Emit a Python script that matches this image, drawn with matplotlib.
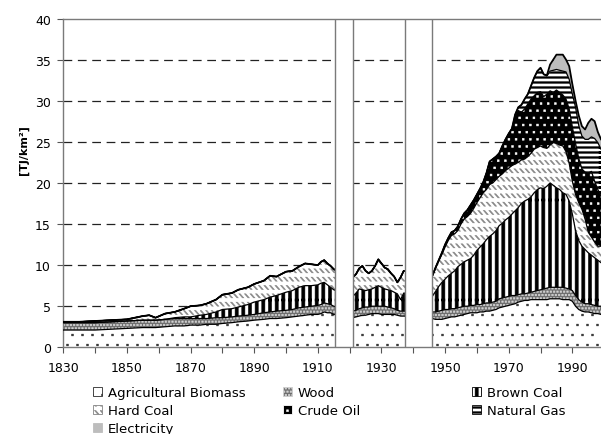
import numpy as np
import matplotlib
matplotlib.use("Agg")
import matplotlib.pyplot as plt
import matplotlib.patches as mpatches
import matplotlib.hatch as mhatch
from matplotlib.path import Path

# ---------------- data (TJ/km2) ----------------
years = [1830, 1835, 1840, 1845, 1850, 1855, 1857, 1859, 1862, 1865, 1868, 1870, 1873, 1875, 1878,
         1880, 1883, 1885, 1888, 1890, 1893, 1895, 1897, 1900, 1902, 1904, 1906, 1908, 1910, 1911,
         1912, 1913, 1914, 1915,
         1921, 1922, 1923, 1924, 1925, 1926, 1927, 1928, 1929, 1930, 1931, 1932, 1933, 1934, 1935,
         1936, 1937,
         1946, 1947, 1948, 1949, 1950, 1951, 1952, 1953, 1954, 1955, 1956, 1957, 1958, 1959, 1960,
         1961, 1962, 1963, 1964, 1965, 1966, 1967, 1968, 1969, 1970, 1971, 1972, 1973, 1974, 1975,
         1976, 1977, 1978, 1979, 1980, 1981, 1982, 1983, 1984, 1985, 1986, 1987, 1988, 1989, 1990,
         1991, 1992, 1993, 1994, 1995, 1996, 1997, 1998, 1999]

agricultural_biomass = [2.1, 2.1, 2.1, 2.2, 2.3, 2.4, 2.4, 2.4, 2.5, 2.6, 2.6, 2.7, 2.7, 2.8, 2.8,
                        2.9, 3.0, 3.1, 3.2, 3.3, 3.4, 3.5, 3.5, 3.6, 3.7, 3.8, 3.9, 4.0, 4.0, 4.1,
                        4.3, 4.2, 4.2, 4.0,
                        3.6, 3.7, 3.8, 3.9, 3.9, 4.0, 4.1, 4.1, 4.1, 4.0, 4.0, 4.0, 4.0, 4.0, 3.9,
                        3.8, 3.8,
                        3.5, 3.4, 3.4, 3.4, 3.5, 3.6, 3.7, 3.7, 3.8, 3.9, 4.0, 4.1, 4.2, 4.2, 4.2,
                        4.3, 4.3, 4.4, 4.4, 4.5, 4.6, 4.8, 4.9, 5.0, 5.1, 5.2, 5.3, 5.5, 5.6, 5.7,
                        5.7, 5.8, 5.8, 5.8, 5.8, 5.8, 5.8, 5.9, 5.9, 5.9, 5.9, 5.8, 5.8, 5.8, 5.6,
                        5.0, 4.6, 4.4, 4.3, 4.3, 4.2, 4.1, 4.1, 4.0]

wood = [0.9, 0.9, 0.9, 0.9, 0.9, 0.9, 0.9, 0.9, 0.9, 0.9, 0.9, 0.8, 0.8, 0.7, 0.8,
        0.7, 0.7, 0.7, 0.7, 0.7, 0.8, 0.8, 0.9, 0.9, 0.9, 1.0, 1.0, 1.0, 1.1, 1.1,
        1.1, 1.1, 1.0, 1.0,
        0.8, 0.8, 0.9, 0.9, 1.0, 0.9, 0.9, 0.9, 0.9, 1.0, 1.0, 0.9, 0.8, 0.7, 0.6,
        0.6, 0.6,
        0.8, 0.9, 1.0, 1.1, 1.1, 1.0, 1.0, 1.0, 1.0, 1.0, 1.0, 0.9, 0.9, 0.9, 1.0,
        0.9, 1.0, 1.0, 1.0, 1.0, 1.0, 1.1, 1.1, 1.1, 1.1, 1.1, 1.0, 0.9, 0.9, 0.8,
        0.9, 0.9, 1.0, 1.1, 1.2, 1.3, 1.4, 1.4, 1.4, 1.4, 1.4, 1.5, 1.4, 1.3, 1.3,
        1.3, 1.2, 1.1, 1.0, 1.0, 1.0, 1.0, 0.9, 1.0]

brown_coal = [0.0, 0.0, 0.0, 0.0, 0.0, 0.0, 0.0, 0.0, 0.0, 0.1, 0.2, 0.2, 0.4, 0.5, 0.7,
              1.0, 1.0, 1.1, 1.3, 1.5, 1.6, 1.8, 1.9, 2.2, 2.3, 2.5, 2.6, 2.5, 2.5, 2.6,
              2.5, 2.3, 2.1, 2.0,
              1.8, 2.1, 2.4, 2.2, 2.0, 2.1, 2.1, 2.3, 2.5, 2.3, 2.1, 2.1, 2.1, 2.0, 2.0,
              1.4, 2.2,
              1.9, 2.5, 3.0, 3.4, 3.7, 4.1, 4.3, 4.6, 5.0, 5.2, 5.4, 5.6, 5.7, 6.1, 6.6,
              7.0, 7.3, 7.7, 8.1, 8.3, 8.6, 8.9, 9.1, 9.4, 9.6, 9.9, 10.3, 10.6, 11.0, 11.3,
              11.4, 11.6, 12.0, 12.3, 12.4, 12.2, 12.4, 12.7, 12.4, 12.1, 11.9, 11.5, 11.4, 10.7, 9.3,
              7.9, 7.2, 6.8, 6.6, 6.2, 6.0, 5.8, 5.6, 5.3]

hard_coal = [0.1, 0.1, 0.2, 0.2, 0.2, 0.5, 0.6, 0.3, 0.7, 0.7, 1.0, 1.3, 1.2, 1.3, 1.5,
             1.8, 1.9, 2.1, 2.1, 2.2, 2.3, 2.6, 2.3, 2.5, 2.4, 2.5, 2.7, 2.6, 2.4, 2.6,
             2.7, 2.6, 2.6, 2.5,
             2.3, 2.3, 2.5, 2.9, 2.4, 2.0, 2.2, 2.6, 3.2, 2.9, 2.6, 2.5, 2.1, 1.9, 1.4,
             2.7, 2.7,
             2.5, 2.8, 3.1, 3.4, 3.9, 4.3, 4.6, 4.5, 4.4, 4.9, 5.2, 5.3, 5.5, 5.7, 5.8,
             6.0, 6.2, 6.1, 6.3, 6.2, 6.2, 6.0, 6.0, 6.0, 6.0, 5.9, 5.7, 5.5, 5.3, 5.1,
             5.2, 5.3, 5.3, 5.1, 5.1, 5.0, 4.6, 4.6, 5.2, 5.4, 5.4, 5.7, 5.2, 4.6, 4.0,
             4.4, 4.6, 4.5, 3.7, 2.5, 2.2, 1.9, 1.7, 2.0]

crude_oil = [0.0, 0.0, 0.0, 0.0, 0.0, 0.0, 0.0, 0.0, 0.0, 0.0, 0.0, 0.0, 0.0, 0.0, 0.0,
             0.0, 0.0, 0.0, 0.0, 0.0, 0.0, 0.0, 0.0, 0.0, 0.0, 0.0, 0.0, 0.0, 0.0, 0.0,
             0.0, 0.0, 0.0, 0.0,
             0.0, 0.0, 0.0, 0.0, 0.0, 0.0, 0.0, 0.0, 0.0, 0.0, 0.0, 0.0, 0.0, 0.0, 0.0,
             0.0, 0.0,
             0.0, 0.1, 0.1, 0.2, 0.3, 0.3, 0.4, 0.4, 0.5, 0.6, 0.7, 0.8, 1.0, 1.0, 1.0,
             1.1, 1.3, 2.0, 2.8, 2.9, 2.8, 2.8, 3.4, 3.8, 4.2, 4.5, 5.7, 6.3, 5.8, 6.1,
             6.4, 6.6, 6.5, 6.7, 6.6, 6.2, 6.6, 6.6, 6.1, 6.5, 6.4, 6.2, 6.4, 6.6, 6.6,
             6.2, 5.4, 4.9, 5.7, 7.2, 8.0, 7.4, 6.9, 6.1]

natural_gas = [0.0, 0.0, 0.0, 0.0, 0.0, 0.0, 0.0, 0.0, 0.0, 0.0, 0.0, 0.0, 0.0, 0.0, 0.0,
               0.0, 0.0, 0.0, 0.0, 0.0, 0.0, 0.0, 0.0, 0.0, 0.0, 0.0, 0.0, 0.0, 0.0, 0.0,
               0.0, 0.0, 0.0, 0.0,
               0.0, 0.0, 0.0, 0.0, 0.0, 0.0, 0.0, 0.0, 0.0, 0.0, 0.0, 0.0, 0.0, 0.0, 0.0,
               0.0, 0.0,
               0.0, 0.0, 0.0, 0.0, 0.0, 0.0, 0.0, 0.0, 0.0, 0.0, 0.0, 0.0, 0.0, 0.0, 0.0,
               0.0, 0.0, 0.0, 0.0, 0.0, 0.0, 0.0, 0.0, 0.0, 0.0, 0.0, 0.3, 0.4, 0.9, 1.2,
               1.2, 1.6, 2.2, 2.6, 2.9, 2.7, 2.2, 2.4, 2.7, 2.5, 2.7, 2.9, 3.3, 3.6, 4.0,
               4.4, 4.0, 4.0, 4.0, 4.1, 4.2, 5.2, 5.7, 5.7]

electricity = [0.0, 0.0, 0.0, 0.0, 0.0, 0.0, 0.0, 0.0, 0.0, 0.0, 0.0, 0.0, 0.0, 0.0, 0.0,
               0.0, 0.0, 0.0, 0.0, 0.0, 0.0, 0.0, 0.0, 0.0, 0.0, 0.0, 0.0, 0.0, 0.0, 0.0,
               0.0, 0.0, 0.0, 0.0,
               0.0, 0.0, 0.0, 0.0, 0.0, 0.0, 0.0, 0.0, 0.0, 0.0, 0.0, 0.0, 0.0, 0.0, 0.0,
               0.0, 0.0,
               0.0, 0.0, 0.0, 0.0, 0.0, 0.0, 0.0, 0.0, 0.0, 0.0, 0.0, 0.0, 0.0, 0.0, 0.0,
               0.0, 0.0, 0.0, 0.0, 0.0, 0.0, 0.0, 0.0, 0.0, 0.0, 0.0, 0.0, 0.0, 0.0, 0.0,
               0.0, 0.0, 0.0, 0.0, 0.0, 0.0, 0.1, 0.8, 1.3, 1.8, 1.9, 2.0, 1.5, 1.6, 1.2,
               0.8, 1.2, 1.2, 1.2, 2.0, 2.2, 2.1, 1.3, 1.2]

series_names = ["Agricultural Biomass", "Wood", "Brown Coal", "Hard Coal",
                "Crude Oil", "Natural Gas", "Electricity"]

# periods without data (war years), drawn as blank bars
gap_start = [1915.5, 1937.5]
gap_end = [1921.2, 1945.9]

x_ticks = [1830, 1850, 1870, 1890, 1910, 1930, 1950, 1970, 1990]
y_ticks = [0, 5, 10, 15, 20, 25, 30, 35, 40]


# ---------------- custom fill patterns (hatch tiles of 100 px) ----------------
def _wrap(poly):
    out = [poly]
    p = np.array(poly)
    for dx in (-1, 0, 1):
        for dy in (-1, 0, 1):
            if dx == 0 and dy == 0:
                continue
            q = p + [dx, dy]
            if q[:, 0].max() > 0 and q[:, 0].min() < 1 and q[:, 1].max() > 0 and q[:, 1].min() < 1:
                out.append(q.tolist())
    return out


def _sq(cx, cy, w, h):
    return [(cx - w / 2, cy - h / 2), (cx + w / 2, cy - h / 2), (cx + w / 2, cy + h / 2),
            (cx - w / 2, cy + h / 2), (cx - w / 2, cy - h / 2)]


def _dots(ncol, nrow, s):
    polys = []
    for j in range(nrow):
        y = (j + 0.5) / nrow
        off = 0.25 / ncol if j % 2 == 0 else 0.75 / ncol
        for i in range(ncol):
            polys.append(_sq(off + i / ncol, y, s, s))
    return polys


def _vbars(n, w):
    return [[((i + .5) / n - w / 2, -0.01), ((i + .5) / n + w / 2, -0.01), ((i + .5) / n + w / 2, 1.01),
             ((i + .5) / n - w / 2, 1.01), ((i + .5) / n - w / 2, -0.01)] for i in range(n)]


def _hbars(n, h):
    return [[(-0.01, (i + .5) / n - h / 2), (1.01, (i + .5) / n - h / 2), (1.01, (i + .5) / n + h / 2),
             (-0.01, (i + .5) / n + h / 2), (-0.01, (i + .5) / n - h / 2)] for i in range(n)]


def _dashes(ncol, nrow, L, H, t):
    polys = []
    for j in range(nrow):
        yc = (j + 0.5) / nrow
        off = 0.0 if j % 2 == 0 else 0.5 / ncol
        for i in range(ncol):
            x0 = off + i / ncol
            polys.append([(x0, yc + H / 2), (x0 + t, yc + H / 2), (x0 + t + L, yc - H / 2),
                          (x0 + L, yc - H / 2), (x0, yc + H / 2)])
    return polys


_PATTERNS = {
    "o": lambda: _dots(10, 10, 0.017),          # agricultural biomass: sparse dots
    "+": lambda: _dots(30, 30, 0.015),          # wood: fine checker
    "O": lambda: _vbars(15, 0.031),             # brown coal: vertical stripes
    "\\": lambda: _dashes(18, 12, 0.035, 0.04, 0.014),  # hard coal: dashed diagonals
    ".": lambda: _dots(14, 14, 0.018),          # crude oil: white dots
    "-": lambda: _hbars(20, 0.015),             # natural gas: horizontal lines
}


class _TileHatch(mhatch.HatchPatternBase):
    def __init__(self, hatch, density):
        polys = []
        if hatch in _PATTERNS:
            for p in _PATTERNS[hatch]():
                polys.extend(_wrap(p))
        verts, codes = [], []
        for p in polys:
            verts.extend(p)
            codes.extend([Path.MOVETO] + [Path.LINETO] * (len(p) - 2) + [Path.CLOSEPOLY])
        self.verts = np.array(verts, dtype=float).reshape(-1, 2)
        self.codes = np.array(codes, dtype=Path.code_type)
        self.num_vertices = len(self.verts)

    def set_vertices_and_codes(self, vertices, codes):
        vertices[:] = self.verts
        codes[:] = self.codes


mhatch._hatch_types = [_TileHatch]

styles = {
    "Agricultural Biomass": dict(face="white", hcol="#2a2a2a", hatch="o"),
    "Wood": dict(face="#6e6e6e", hcol="#d2d2d2", hatch="+"),
    "Brown Coal": dict(face="white", hcol="black", hatch="O"),
    "Hard Coal": dict(face="white", hcol="#858585", hatch="\\"),
    "Crude Oil": dict(face="black", hcol="white", hatch="."),
    "Natural Gas": dict(face="white", hcol="black", hatch="-"),
    "Electricity": dict(face="#bdbdbd", hcol="#bdbdbd", hatch=None),
}

plt.rcParams["font.family"] = ["DejaVu Sans"]
plt.rcParams["hatch.linewidth"] = 0.4

fig = plt.figure(figsize=(6.01, 4.35), dpi=100)
ax = fig.add_axes([63.3 / 601, 1 - 348.3 / 435, (601 - 63.3) / 601, (348.3 - 19.5) / 435])

x = np.array(years, dtype=float)
values = [agricultural_biomass, wood, brown_coal, hard_coal, crude_oil, natural_gas, electricity]
base = np.zeros(len(years))
handles = {}
for name, vals in zip(series_names, values):
    st = styles[name]
    top = base + np.array(vals, dtype=float)
    ax.fill_between(x, base, top, facecolor=st["face"], edgecolor=st["hcol"],
                    hatch=st["hatch"], linewidth=0, zorder=2)
    ax.plot(x, top, color="black", lw=0.9 if name != "Electricity" else 1.3, zorder=3)
    handles[name] = mpatches.Patch(facecolor=st["face"], edgecolor=st["hcol"], hatch=st["hatch"],
                                   linewidth=0.6)
    base = top

# blank bars over the war years
ax.bar(gap_start, [40] * len(gap_start), width=np.array(gap_end) - np.array(gap_start),
       align="edge", color="white", edgecolor="#7a7a7a", linewidth=1.0, zorder=5)

# axes formatting
ax.set_xlim(1830, 1999)
ax.set_ylim(0, 40)
ax.set_xticks(x_ticks)
ax.set_xticks(np.arange(1840, 2000, 20), minor=True)
ax.set_yticks(y_ticks)
ax.tick_params(axis="both", which="both", direction="out", length=4, width=0.8, color="#555555",
               labelsize=9, labelcolor="black")
ax.tick_params(axis="x", pad=6)
ax.tick_params(axis="y", pad=5)
for sp in ax.spines.values():
    sp.set_color("#7a7a7a")
    sp.set_linewidth(1.0)
ax.spines["right"].set_visible(False)

for yv in y_ticks[1:-1]:
    ax.axhline(yv, color="#222222", lw=0.9, dashes=(7, 4.5), zorder=1)

fig.text(24 / 601, 1 - 150 / 435, "[TJ/km²]", rotation=90, fontsize=8, fontweight="bold",
         ha="center", va="center")

# legend: three columns placed like the original
cols = [(93, ["Agricultural Biomass", "Hard Coal", "Electricity"]),
        (283, ["Wood", "Crude Oil"]),
        (472, ["Brown Coal", "Natural Gas"])]
for xpix, names in cols:
    fig.legend([handles[n] for n in names], names, loc="upper left",
               bbox_to_anchor=(xpix / 601, 1 - 387 / 435), frameon=False, fontsize=9.5,
               handlelength=0.7, handleheight=0.7, handletextpad=0.4, labelspacing=0.38,
               borderpad=0, borderaxespad=0)

fig.savefig("out.png", dpi=100)
